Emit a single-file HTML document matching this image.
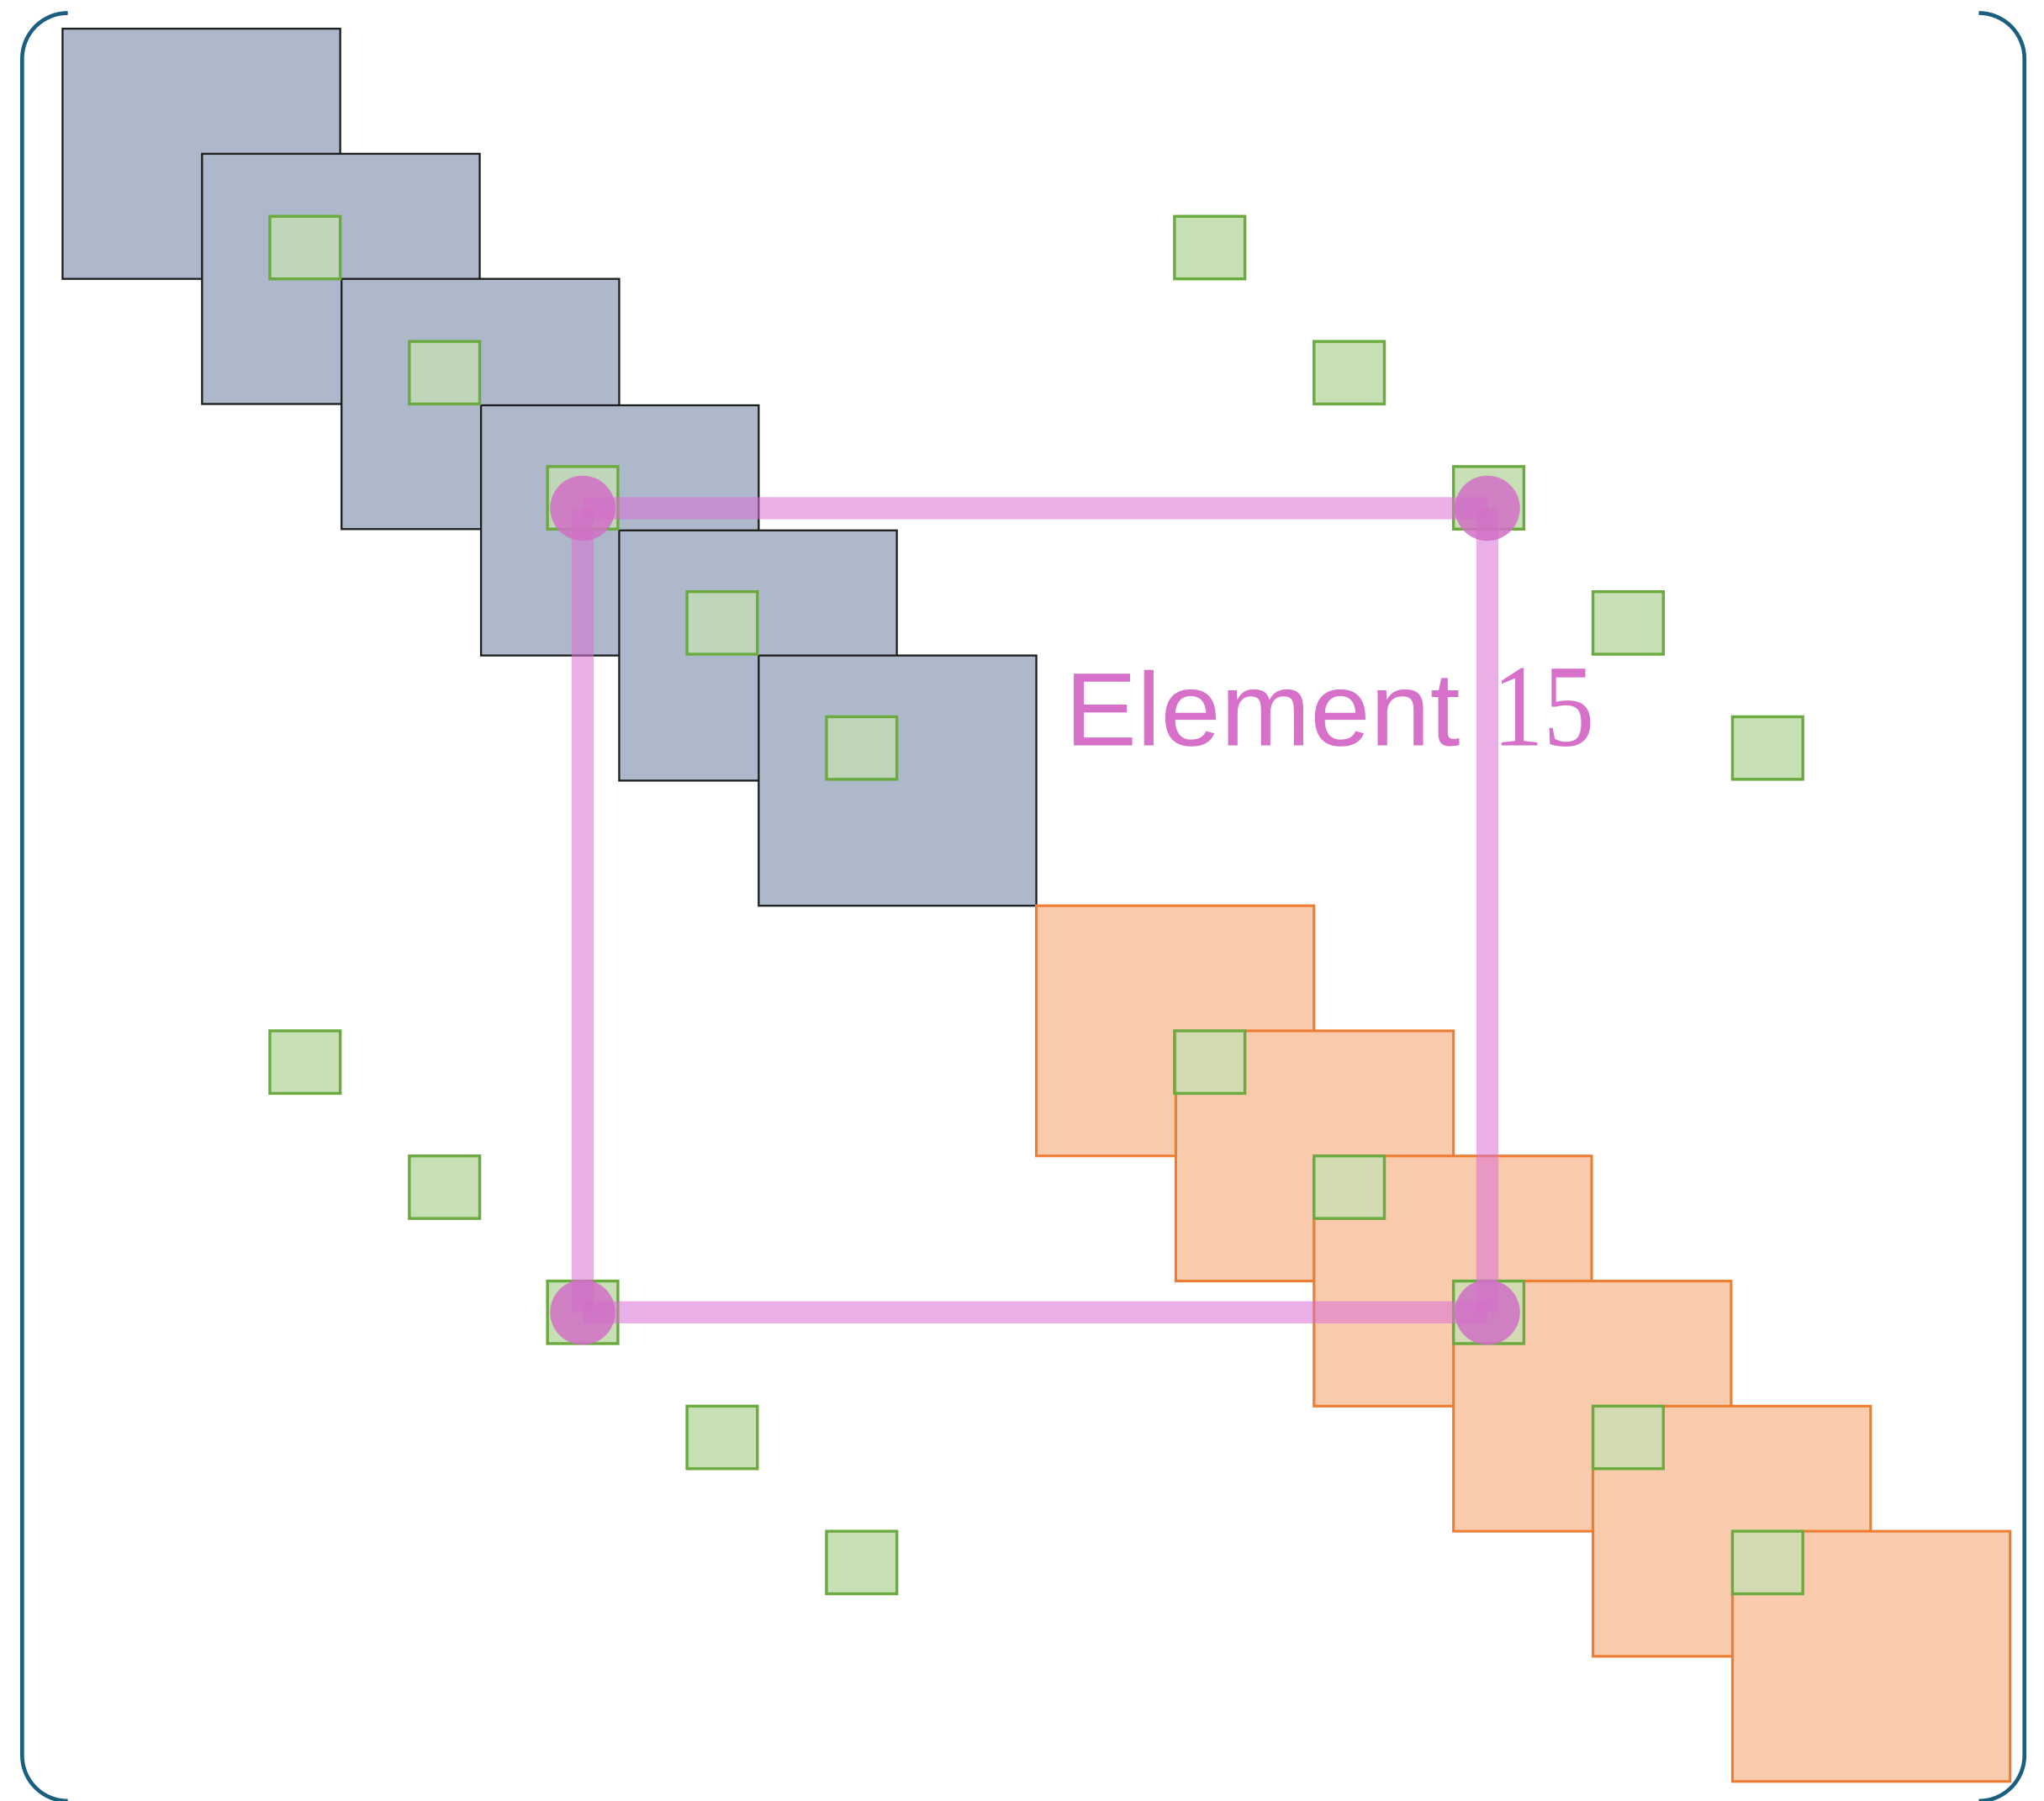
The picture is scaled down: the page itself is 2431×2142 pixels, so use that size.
<!DOCTYPE html>
<html><head><meta charset="utf-8"><style>
html,body{margin:0;padding:0;background:#fff;}
svg{display:block;}
</style></head><body>
<svg width="2431" height="2142" viewBox="0 0 1568 1382" preserveAspectRatio="none" xmlns="http://www.w3.org/2000/svg">
<g fill="none" stroke="#1a5e80" stroke-width="3">
<path d="M52 10 A35 35 0 0 0 17 45 L17 1347 A35 35 0 0 0 52 1382"/>
<path d="M1518 10 A35 35 0 0 1 1553 45 L1553 1347 A35 35 0 0 1 1518 1382"/>
</g>
<g fill="#adb9ca" stroke="#1e1e1e" stroke-width="1.5">
<rect x="48" y="22" width="213" height="192"/>
<rect x="155" y="118" width="213" height="192"/>
<rect x="262" y="214" width="213" height="192"/>
<rect x="369" y="311" width="213" height="192"/>
<rect x="475" y="407" width="213" height="192"/>
<rect x="582" y="503" width="213" height="192"/>
</g>
<g fill="#f8cbad" stroke="#ed7d31" stroke-width="2">
<rect x="795" y="695" width="213" height="192"/>
<rect x="902" y="791" width="213" height="192"/>
<rect x="1008" y="887" width="213" height="192"/>
<rect x="1115" y="983" width="213" height="192"/>
<rect x="1222" y="1079" width="213" height="192"/>
<rect x="1329" y="1175" width="213" height="192"/>
</g>
<g fill="#c5e0b4" fill-opacity="0.75" stroke="#6aaa3e" stroke-width="2.2">
<rect x="207" y="166" width="54" height="48"/>
<rect x="314" y="262" width="54" height="48"/>
<rect x="420" y="358" width="54" height="48"/>
<rect x="527" y="454" width="54" height="48"/>
<rect x="634" y="550" width="54" height="48"/>
<rect x="901" y="791" width="54" height="48"/>
<rect x="1008" y="887" width="54" height="48"/>
<rect x="1115" y="983" width="54" height="48"/>
<rect x="1222" y="1079" width="54" height="48"/>
<rect x="1329" y="1175" width="54" height="48"/>
</g>
<g fill="#c8e0b5" stroke="#6aaa3e" stroke-width="2.2">
<rect x="901" y="166" width="54" height="48"/>
<rect x="1008" y="262" width="54" height="48"/>
<rect x="1115" y="358" width="54" height="48"/>
<rect x="1222" y="454" width="54" height="48"/>
<rect x="1329" y="550" width="54" height="48"/>
<rect x="207" y="791" width="54" height="48"/>
<rect x="314" y="887" width="54" height="48"/>
<rect x="420" y="983" width="54" height="48"/>
<rect x="527" y="1079" width="54" height="48"/>
<rect x="634" y="1175" width="54" height="48"/>
</g>
<g stroke="#da70d6" stroke-opacity="0.55" stroke-width="17" fill="none">
<line x1="447" y1="390" x2="1141" y2="390"/>
<line x1="447" y1="1007" x2="1141" y2="1007"/>
<line x1="447" y1="390" x2="447" y2="1007"/>
<line x1="1141" y1="390" x2="1141" y2="1007"/>
</g>
<g fill="#d16fc6" fill-opacity="0.85">
<circle cx="447" cy="390" r="25"/>
<circle cx="1141" cy="390" r="25"/>
<circle cx="447" cy="1007" r="25"/>
<circle cx="1141" cy="1007" r="25"/>
</g>
<text x="817" y="572" font-size="80" fill="#d670c8" font-family="'Liberation Sans', sans-serif" textLength="303" lengthAdjust="spacingAndGlyphs">Element</text>
<text x="1145" y="572" font-size="90" fill="#d670c8" font-family="'Liberation Serif', serif" textLength="78" lengthAdjust="spacingAndGlyphs">15</text>
</svg>
</body></html>
